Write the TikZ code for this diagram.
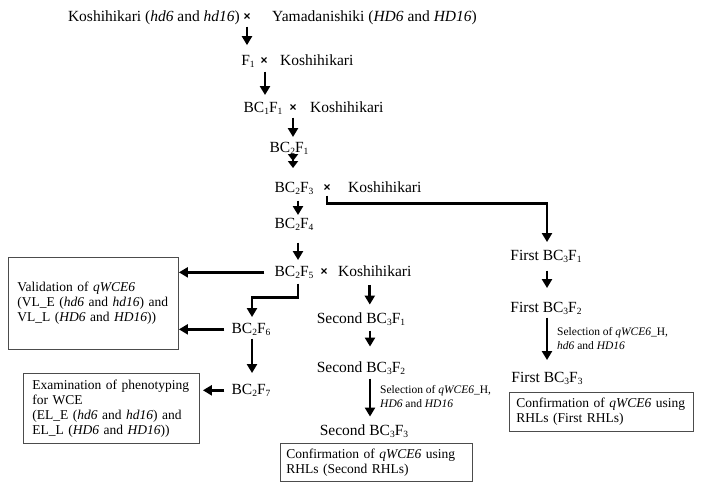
\documentclass[tikz,border=0pt]{standalone}
\usepackage{fontspec}
\setmainfont{Liberation Serif}
\newfontfamily\xfont{Liberation Sans}
\usetikzlibrary{arrows.meta,calc}
\newcommand\sbd[1]{\raisebox{-0.12em}{\fontsize{9.5}{9.5}\selectfont #1}}
\newcommand\crs{{\xfont\bfseries\fontsize{12}{12}\selectfont ×}}
\begin{document}
\begin{tikzpicture}[x=1pt,y=-1pt,
  lab/.style={inner sep=0pt, anchor=base, font=\fontsize{15.5}{18}\selectfont},
  crsn/.style={inner sep=0pt},
  arr/.style={line width=2.6pt, -{Triangle[length=9pt,width=10pt]}},
  dbl/.style={line width=2.6pt, -{Triangle[length=7pt,width=10pt]Triangle[length=7pt,width=10pt]}},
  bx/.style={draw=black!70, line width=0.9pt, align=left, anchor=north west, font=\fontsize{13.5}{15}\selectfont, inner ysep=0pt},
  sel/.style={inner sep=0pt, anchor=north west, align=left, font=\fontsize{11.5}{14}\selectfont}]
\useasboundingbox (0,0) rectangle (711,493);

% text nodes
\node[lab, anchor=base east] (k0) at (240,21.5) {Koshihikari (\textit{hd6} and \textit{hd16})};
\node[crsn] (x1) at (247,17) {\crs};
\node[lab, anchor=base west] (ya) at (272,21.5) {Yamadanishiki (\textit{HD6} and \textit{HD16})};
\node[lab] (f1) at (248,65.5) {F\sbd{1}};
\node[crsn] (x2) at (264,61) {\crs};
\node[lab, anchor=base west] (k2) at (280,65.5) {Koshihikari};
\node[lab] (b11) at (263,112.5) {BC\sbd{1}F\sbd{1}};
\node[crsn] (x3) at (293,108) {\crs};
\node[lab, anchor=base west] (k3) at (310,112.5) {Koshihikari};
\node[lab] (b21) at (289,152.5) {BC\sbd{2}F\sbd{1}};
\node[lab] (b23) at (294,192.5) {BC\sbd{2}F\sbd{3}};
\node[crsn] (x5) at (327,188) {\crs};
\node[lab, anchor=base west] (k5) at (348,192.5) {Koshihikari};
\node[lab] (b24) at (294,228.5) {BC\sbd{2}F\sbd{4}};
\node[lab] (b25) at (294,276.5) {BC\sbd{2}F\sbd{5}};
\node[crsn] (x7) at (324,272) {\crs};
\node[lab, anchor=base west] (k7) at (338,276.5) {Koshihikari};
\node[lab] (b26) at (251,333.5) {BC\sbd{2}F\sbd{6}};
\node[lab] (b27) at (251,394.5) {BC\sbd{2}F\sbd{7}};
\node[lab] (s1) at (361,323.5) {Second BC\sbd{3}F\sbd{1}};
\node[lab] (s2) at (361,372.5) {Second BC\sbd{3}F\sbd{2}};
\node[lab] (s3) at (364,435.5) {Second BC\sbd{3}F\sbd{3}};
\node[lab] (p1) at (546,260.5) {First BC\sbd{3}F\sbd{1}};
\node[lab] (p2) at (546,312.5) {First BC\sbd{3}F\sbd{2}};
\node[lab] (p3) at (547,382.5) {First BC\sbd{3}F\sbd{3}};

% boxes
\node[bx, minimum width=170pt, minimum height=92pt, text width=152pt, inner xsep=9pt] (v) at (8,257)
  {Validation of \textit{qWCE6}\\(VL\_E (\textit{hd6} and \textit{hd16}) and\\VL\_L (\textit{HD6} and \textit{HD16}))};
\node[bx, minimum width=176pt, minimum height=70pt, text width=158pt, inner xsep=9pt] (ex) at (23,373)
  {Examination of phenotyping\\for WCE\\(EL\_E (\textit{hd6} and \textit{hd16}) and\\EL\_L (\textit{HD6} and \textit{HD16}))};
\node[bx, minimum height=38pt, text width=180pt, inner xsep=6pt] (c2) at (280,443)
  {Confirmation of \textit{qWCE6} using\\RHLs (Second RHLs)};
\node[bx, minimum height=39pt, text width=170pt, inner xsep=7pt] (c1) at (509,392)
  {Confirmation of \textit{qWCE6} using\\RHLs (First RHLs)};

% selection labels
\node[sel] (l1) at (380,385) {Selection of \textit{qWCE6}\_H,\\\textit{HD6} and \textit{HD16}};
\node[sel] (l2) at (557,327) {Selection of \textit{qWCE6}\_H,\\\textit{hd6} and \textit{HD16}};

% connectors
\draw[arr] ($(x1.south)+(0,6)$) -- ($(x1 |- f1.north)+(0,-10)$);
\draw[arr] ($(x2.south)+(1,7)$) -- ($(x2 |- b11.north)+(1,-7)$);
\draw[arr] ($(x3.south)+(0,6)$) -- ($(x3 |- b21.north)+(0,-5)$);
\draw[dbl] (x3 |- b21.south) -- ($(x3 |- b23.north)+(0,-14)$);
\draw[arr] ($(b23.south)+(4,6)$) -- ($(b24.north)+(4,-3)$);
\draw[arr] ($(b24.south)+(4,12)$) -- ($(b25.north)+(4,-6)$);
\draw[arr] ($(b25.south)+(4,5)$) -- ++(0,14) -| ($(b26.north)+(1,-6)$);
\draw[arr] ($(b25.west)+(-10,0)$) -- (v.east |- b25.west);
\draw[arr] ($(b26.west)+(-7,0)$) -- (v.east |- b26.west);
\draw[arr] ($(b26.south)+(1,3)$) -- ($(b27.north)+(1,-11)$);
\draw[arr] ($(b27.west)+(-7,0)$) -- ($(ex.east |- b27.west)+(3,0)$);
\draw[arr] ($(k7.south)+(-5,8)$) -- ($(k7.south |- s1.north)+(-5,-8)$);
\draw[arr] ($(s1.south)+(9,5)$) -- ($(s1.south |- s2.north)+(9,-15)$);
\draw[arr] ($(s2.south)+(9,4)$) -- ($(s2.south |- s3.north)+(9,-8)$);
\draw[arr] ($(x5.south)+(0,4)$) -- ++(0,8) -| ($(p1.north)+(1,-8)$);
\draw[arr] ($(p1.south)+(1,8)$) -- ($(p2.north)+(1,-14)$);
\draw[arr] ($(p2.south)+(1,3)$) -- ($(p2.south |- p3.north)+(1,-12)$);
\end{tikzpicture}
\end{document}
